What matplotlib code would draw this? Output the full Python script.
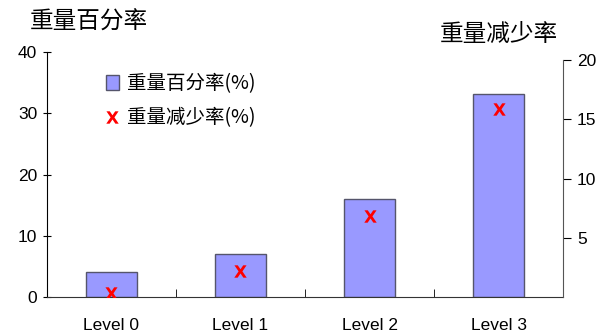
import matplotlib
matplotlib.use("Agg")
import matplotlib.pyplot as plt
import numpy as np

plt.rcParams['font.family'] = ['Liberation Sans', 'Noto Sans CJK SC', 'DejaVu Sans']
plt.rcParams['mathtext.fontset'] = 'dejavusans'

# data
levels = ["Level 0", "Level 1", "Level 2", "Level 3"]
weight_pct = [4.1, 7.0, 16.0, 33.1]        # left axis, bars
weight_loss = [0.3, 2.2, 6.8, 15.9]        # right axis, red X
left_ticks = [0, 10, 20, 30, 40]
right_ticks = [5, 10, 15, 20]

bar_color = "#9999ff"
bar_edge = "#55556b"
red = "#ff0000"

fig = plt.figure(figsize=(6.01, 3.36), dpi=100)
ax = fig.add_axes([0.078, 0.116, 0.859, 0.729])
x = np.arange(len(levels))

bars = ax.bar(x, weight_pct, width=0.4, color=bar_color, edgecolor=bar_edge,
              linewidth=1.0, zorder=2)
ax.set_xlim(-0.5, len(levels) - 0.5)
ax.set_ylim(0, 40)
ax.set_yticks(left_ticks)
ax.tick_params(axis='y', direction='inout', length=6, labelsize=12.5, pad=4)

# category labels centered, ticks on the boundaries between them
ax.set_xticks(x)
ax.set_xticklabels(levels, fontsize=12.5)
ax.tick_params(axis='x', which='major', length=0, pad=15)
ax.set_xticks(np.arange(0.5, len(levels) - 0.5, 1), minor=True)
ax.tick_params(axis='x', which='minor', direction='in', length=6, color='black')

for s in ['top', 'right']:
    ax.spines[s].set_visible(False)
ax.spines['left'].set_color('black')
ax.spines['bottom'].set_color('#333333')

ax2 = ax.twinx()
pts = ax2.scatter(x, weight_loss, marker=r'$\mathbf{X}$', s=80, color=red,
                  zorder=3, linewidths=0)
ax2.set_ylim(0, 20 * 245 / 237)
ax2.set_yticks(right_ticks)
ax2.spines['right'].set_bounds(0, 20)
ax2.spines['right'].set_color('#555555')
for s in ['top', 'left', 'bottom']:
    ax2.spines[s].set_visible(False)
ax2.tick_params(axis='y', direction='out', length=6, labelsize=12.5, pad=4)

fig.text(0.05, 0.935, "重量百分率", fontsize=17, family='Noto Sans CJK SC',
         weight='medium', ha='left', va='center')
fig.text(0.732, 0.898, "重量减少率", fontsize=17, family='Noto Sans CJK SC',
         weight='medium', ha='left', va='center')

leg = ax.legend([bars, pts], ["重量百分率(%)", "重量减少率(%)"],
                loc='upper left', bbox_to_anchor=(0.08, 0.985), frameon=False,
                labelspacing=0.65, handlelength=0.7, handleheight=0.8,
                handletextpad=0.4, prop={'family': ['Noto Sans CJK SC'], 'size': 14})

fig.savefig("out.png", dpi=100)
